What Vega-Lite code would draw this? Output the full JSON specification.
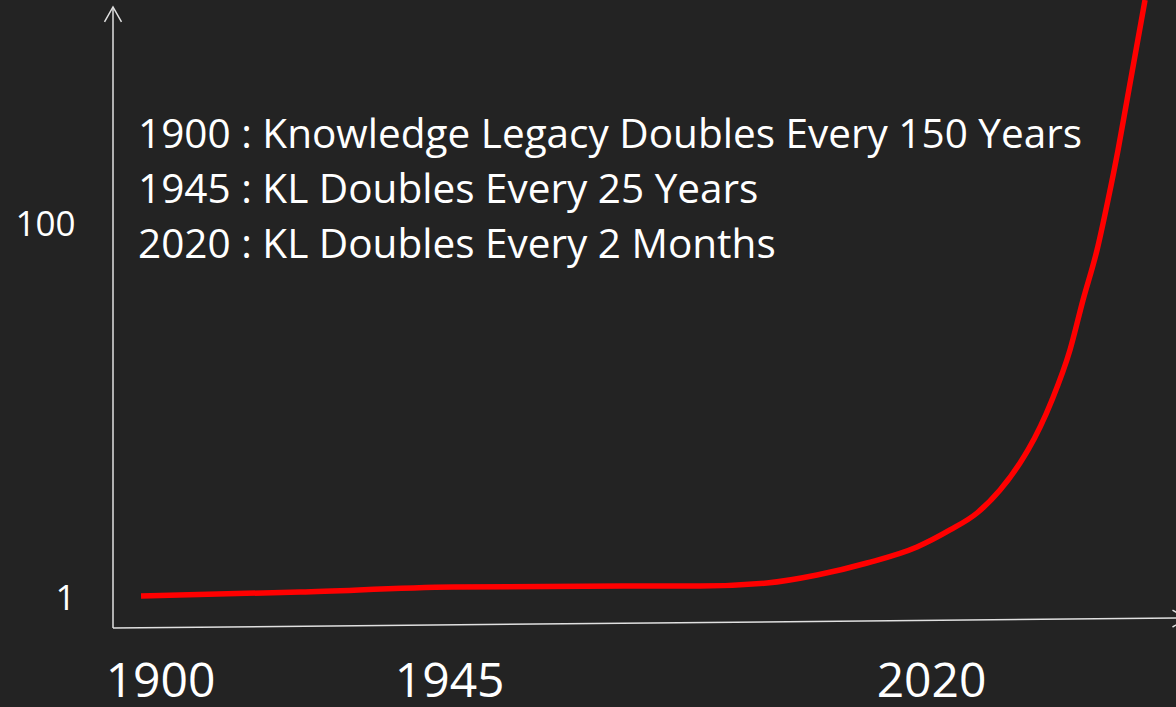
{
  "$schema": "https://vega.github.io/schema/vega-lite/v6.json",
  "width": 1063,
  "height": 628,
  "autosize": {"type": "none"},
  "padding": {"left": 113, "right": 0, "top": 0, "bottom": 79},
  "background": "#232323",
  "config": {
    "view": {"stroke": null},
    "font": "Open Sans"
  },
  "datasets": {
    "curve": [
      {"year": 1897.04, "level": 1.53},
      {"year": 1921.79, "level": 2.59},
      {"year": 1945.6, "level": 3.92},
      {"year": 1972.06, "level": 4.18},
      {"year": 1984.05, "level": 4.18},
      {"year": 1994.47, "level": 4.98},
      {"year": 2002.26, "level": 7.1},
      {"year": 2010.04, "level": 10.29},
      {"year": 2017.82, "level": 14.54},
      {"year": 2022.96, "level": 19.05},
      {"year": 2027.16, "level": 23.56},
      {"year": 2030.74, "level": 29.66},
      {"year": 2033.85, "level": 36.83},
      {"year": 2035.1, "level": 40.28},
      {"year": 2038.83, "level": 53.55},
      {"year": 2041.63, "level": 66.82},
      {"year": 2043.66, "level": 80.09},
      {"year": 2045.84, "level": 93.36},
      {"year": 2047.55, "level": 106.63},
      {"year": 2049.11, "level": 119.9},
      {"year": 2050.51, "level": 133.17},
      {"year": 2051.91, "level": 146.44},
      {"year": 2053.31, "level": 159.7}
    ],
    "axislines": [
      {"year": 1892.68, "level": -6.96, "year2": 1892.68, "level2": 157.85},
      {"year": 1892.68, "level": -6.96, "year2": 2058.13, "level2": -4.31}
    ],
    "arrows": [
      {"year": 1892.68, "level": 155.86, "dir": "up"},
      {"year": 2058.75, "level": -4.44, "dir": "right"}
    ],
    "notes": [
      {"year": 1896.58, "level": 120.43, "note": "1900 : Knowledge Legacy Doubles Every 150 Years"},
      {"year": 1896.58, "level": 105.83, "note": "1945 : KL Doubles Every 25 Years"},
      {"year": 1896.58, "level": 91.23, "note": "2020 : KL Doubles Every 2 Months"}
    ]
  },
  "encoding": {
    "x": {
      "field": "year",
      "type": "quantitative",
      "scale": {"domain": [1892.68, 2058.13], "nice": false, "zero": false},
      "axis": {
        "title": null,
        "values": [1900, 1945, 2020],
        "format": "d",
        "labelFontSize": 48,
        "labelColor": "#ffffff",
        "labelFont": "Open Sans",
        "labelPadding": 30,
        "ticks": false,
        "tickSize": 0,
        "domain": false,
        "grid": false
      }
    },
    "y": {
      "field": "level",
      "type": "quantitative",
      "scale": {"domain": [-6.96, 159.7], "nice": false, "zero": false},
      "axis": {
        "title": null,
        "values": [1, 100],
        "format": "d",
        "labelFontSize": 35,
        "labelColor": "#ffffff",
        "labelFont": "Open Sans",
        "labelPadding": 38,
        "ticks": false,
        "tickSize": 0,
        "domain": false,
        "grid": false
      }
    }
  },
  "layer": [
    {
      "data": {"name": "axislines"},
      "mark": {"type": "rule", "color": "#e0e0e0", "strokeWidth": 1.5},
      "encoding": {
        "x2": {"field": "year2"},
        "y2": {"field": "level2"}
      }
    },
    {
      "data": {"name": "arrows"},
      "mark": {"type": "point", "filled": false, "stroke": "#e0e0e0", "strokeWidth": 1.5, "size": 225, "opacity": 1},
      "encoding": {
        "shape": {
          "field": "dir",
          "type": "nominal",
          "scale": {"domain": ["up", "right"], "range": ["M-1.13,1L0,-1L1.13,1", "M-1,-1.13L1,0L-1,1.13"]},
          "legend": null
        }
      }
    },
    {
      "data": {"name": "curve"},
      "mark": {"type": "line", "color": "#ff0000", "strokeWidth": 5.5, "interpolate": "monotone"}
    },
    {
      "data": {"name": "notes"},
      "mark": {"type": "text", "align": "left", "baseline": "alphabetic", "font": "Open Sans", "fontSize": 40.5, "color": "#ffffff"},
      "encoding": {
        "text": {"field": "note", "type": "nominal"}
      }
    }
  ]
}
